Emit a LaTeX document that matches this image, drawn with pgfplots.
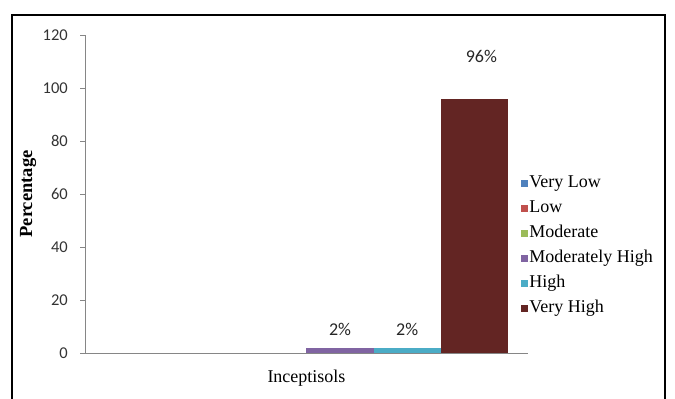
\documentclass[border=0pt]{standalone}
\usepackage{pgfplots}
\pgfplotsset{compat=1.18}
\usepackage{fontspec}
\setmainfont{Liberation Serif}
\newfontfamily\tnr{Liberation Serif}
\newfontfamily\calibri{Carlito}

\definecolor{cVL}{HTML}{4F81BD}
\definecolor{cL}{HTML}{C0504D}
\definecolor{cM}{HTML}{9BBB59}
\definecolor{cMH}{HTML}{8064A2}
\definecolor{cH}{HTML}{4BACC6}
\definecolor{cVH}{HTML}{632523}
\definecolor{axgray}{HTML}{868686}

\begin{document}
\begin{tikzpicture}
\useasboundingbox (0,0) rectangle (675pt,399pt);
% outer chart frame
\draw[line width=1.4pt] (12pt,-20pt) rectangle (665pt,384pt);
\begin{axis}[
  at={(85pt,46pt)}, anchor=south west,
  scale only axis, width=443pt, height=318pt,
  xmin=-0.5, xmax=0.5, ymin=0, ymax=120,
  ytick={0,20,...,120},
  xtick={0}, xticklabels={Inceptisols},
  /pgf/number format/assume math mode=true,
  axis x line*=bottom, axis y line*=left,
  axis line style={axgray, line width=0.9pt},
  tick align=outside,
  major tick length=5pt,
  major tick style={axgray, line width=0.9pt},
  x tick style={draw=none},
  yticklabel style={font=\fontsize{16.5}{18}\calibri, text=black!80, inner sep=0pt, xshift=-12pt},
  xticklabel style={font=\fontsize{18}{20}\tnr, inner sep=0pt, yshift=-12pt},
  ylabel={Percentage},
  every axis y label/.style={at={(-57pt,0.5)}, rotate=90, anchor=center,
    font=\fontsize{18.5}{20}\tnr\bfseries},
  ybar, bar width=0.1516,
  every axis plot/.append style={fill, draw=none},
  nodes near coords={\pgfmathprintnumber{\pgfplotspointmeta}\%},
  every node near coord/.append style={font=\fontsize{18}{20}\calibri, text=black!85, anchor=center, inner sep=0pt},
  legend cell align=left,
  legend image code/.code={\fill[#1] (0pt,-3.5pt) rectangle (7pt,3.5pt);},
  legend style={draw=none, fill=none, at={(0.9835,0.338)}, anchor=west,
    inner sep=0pt, row sep=9pt,
    nodes={inner xsep=1.5pt, inner ysep=0pt, text height=12pt, text depth=4pt},
    font=\fontsize{18}{20}\tnr},
]
% zero-valued classes: nothing to show, only their legend swatch
\addplot[fill=cVL, fill opacity=0, legend image post style={fill opacity=1}, bar shift=-0.379, nodes near coords={}] coordinates {(0,0)};
\addplot[fill=cL, fill opacity=0, legend image post style={fill opacity=1}, bar shift=-0.2274, nodes near coords={}] coordinates {(0,0)};
\addplot[fill=cM, fill opacity=0, legend image post style={fill opacity=1}, bar shift=-0.0758, nodes near coords={}] coordinates {(0,0)};
\addplot[fill=cMH, bar shift=0.0758, every node near coord/.append style={yshift=18pt}] coordinates {(0,2)};
\addplot[fill=cH,  bar shift=0.2274, every node near coord/.append style={yshift=18pt}] coordinates {(0,2)};
\addplot[fill=cVH, bar shift=0.379, every node near coord/.append style={yshift=42pt, xshift=7pt}] coordinates {(0,96)};
\legend{Very Low, Low, Moderate, Moderately High, High, Very High}
\end{axis}
\end{tikzpicture}
\end{document}
